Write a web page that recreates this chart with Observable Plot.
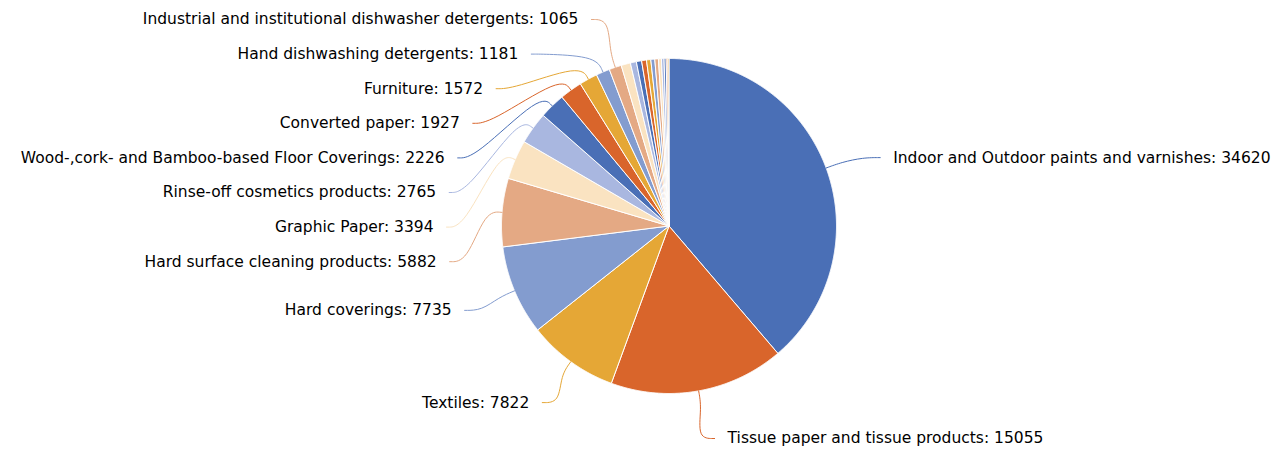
<!DOCTYPE html>
<html>
<head>
<meta charset="utf-8">
<script src="https://cdn.jsdelivr.net/npm/d3@7"></script>
<script src="https://cdn.jsdelivr.net/npm/@observablehq/plot@0.6"></script>
<style>
  html, body { margin: 0; padding: 0; background: #fff; }
  #chart svg { display: block; }
</style>
</head>
<body>
<div id="chart"></div>
<script>
// ---- data ----
const categories = [
  "Indoor and Outdoor paints and varnishes",
  "Tissue paper and tissue products",
  "Textiles",
  "Hard coverings",
  "Hard surface cleaning products",
  "Graphic Paper",
  "Rinse-off cosmetics products",
  "Wood-,cork- and Bamboo-based Floor Coverings",
  "Converted paper",
  "Furniture",
  "Hand dishwashing detergents",
  "Industrial and institutional dishwasher detergents",
  "Other group 1",
  "Other group 2",
  "Other group 3",
  "Other group 4",
  "Other group 5",
  "Other group 6",
  "Other group 7",
  "Other group 8",
  "Other group 9",
  "Other group 10",
  "Other group 11",
  "Other group 12"
];
const values = [
  34620, 15055, 7822, 7735, 5882, 3394, 2765, 2226, 1927, 1572, 1181, 1065,
  800, 520, 450, 420, 370, 340, 310, 260, 220, 180, 140, 100
];
const palette = ["#4A6FB6", "#D9652B", "#E5A736", "#839CCF", "#E4A984", "#FAE3C1", "#A9B7E0"];
const labelThreshold = 1000;

// ---- layout ----
const W = 1284, H = 450;
const R = 167.5;            // pie radius in px (= 1 data unit)
const cx = 668.5, cy = 225.5;

const arcs = d3.pie().sort(null).value(d => d)(values);

// slice outlines (computed from pie angles)
const slicePts = [];
arcs.forEach((a, i) => {
  const name = categories[i];
  slicePts.push({name, x: 0, y: 0});
  const n = Math.max(2, Math.ceil((a.endAngle - a.startAngle) / 0.004));
  for (let k = 0; k <= n; k++) {
    const t = a.startAngle + (a.endAngle - a.startAngle) * k / n;
    slicePts.push({name, x: Math.sin(t), y: Math.cos(t)});
  }
  slicePts.push({name, x: 0, y: 0});
});

// label placement (cluster distribution, y measured downward in radius units)
const RyTop = 197.5 / R, RyBottom = 218 / R;
const spacing = 34.6 / R, tMin = (19 - cy) / R, tMax = (438 - cy) / R;
const ea = 235.5 / R, ebTop = 223.7 / R, ebBottom = 219.4 / R, gap = 13 / R, run = 17 / R;
const labeled = arcs.map((a, i) => ({
  name: categories[i], value: values[i], mid: (a.startAngle + a.endAngle) / 2
})).filter(d => d.value >= labelThreshold);

function distribute(items) {
  const clusters = [];
  const clampStart = (s, n) => Math.max(tMin, Math.min(tMax - (n - 1) * spacing, s));
  for (const d of items) {
    clusters.push({items: [d], sum: d.t, start: clampStart(d.t, 1)});
    while (clusters.length > 1) {
      const b = clusters[clusters.length - 1], a = clusters[clusters.length - 2];
      const aEnd = a.start + (a.items.length - 1) * spacing;
      if (b.start - aEnd >= spacing - 1e-9) break;
      const its = a.items.concat(b.items), sum = a.sum + b.sum, n = its.length;
      clusters.splice(-2, 2, {items: its, sum, start: clampStart(sum / n - (n - 1) * spacing / 2, n)});
    }
  }
  clusters.forEach(c => c.items.forEach((d, k) => { d.y = -(c.start + k * spacing); }));
}

const labels = [];
for (const side of [1, -1]) {
  const items = labeled.filter(d => (d.mid < Math.PI) === (side === 1))
    .map(d => {
      const c = Math.cos(d.mid);
      return {...d, side, t: -(c > 0 ? RyTop : RyBottom) * c};
    })
    .sort((a, b) => a.t - b.t);
  distribute(items);
  items.forEach(d => {
    const eb = d.y > 0 ? ebTop : ebBottom;
    const off = ea * Math.sqrt(Math.max(0, 1 - (d.y / eb) ** 2));
    d.tx = side * off;
    d.cx = side * (off - gap);
    labels.push(d);
  });
}

const connPts = [];
labels.forEach(d => {
  const s = Math.sin(d.mid), c = Math.cos(d.mid);
  connPts.push({name: d.name, x: d.cx, y: d.y});
  connPts.push({name: d.name, x: d.cx - d.side * run, y: d.y});
  connPts.push({name: d.name, x: 1.1 * s, y: 1.1 * c});
  connPts.push({name: d.name, x: s, y: c});
});

const fmt = d => `${d.name}: ${d.value}`;

const chart = Plot.plot({
  width: W,
  height: H,
  margin: 0,
  x: {domain: [-cx / R, (W - cx) / R], axis: null},
  y: {domain: [-(H - cy) / R, cy / R], axis: null},
  color: {domain: categories, range: categories.map((_, i) => palette[i % palette.length])},
  style: {fontFamily: "'DejaVu Sans', sans-serif", background: "#fff", color: "#000"},
  marks: [
    Plot.line(slicePts, {x: "x", y: "y", z: "name", fill: "name", stroke: "#fff", strokeWidth: 1, strokeLinejoin: "round"}),
    Plot.line(connPts, {x: "x", y: "y", z: "name", stroke: "name", strokeWidth: 1, curve: "basis"}),
    Plot.text(labels.filter(d => d.side === 1), {x: "tx", y: "y", text: fmt, textAnchor: "start", fontSize: 15.5, fill: "#000"}),
    Plot.text(labels.filter(d => d.side === -1), {x: "tx", y: "y", text: fmt, textAnchor: "end", fontSize: 15.5, fill: "#000"})
  ]
});
document.getElementById("chart").append(chart);
</script>
</body>
</html>
